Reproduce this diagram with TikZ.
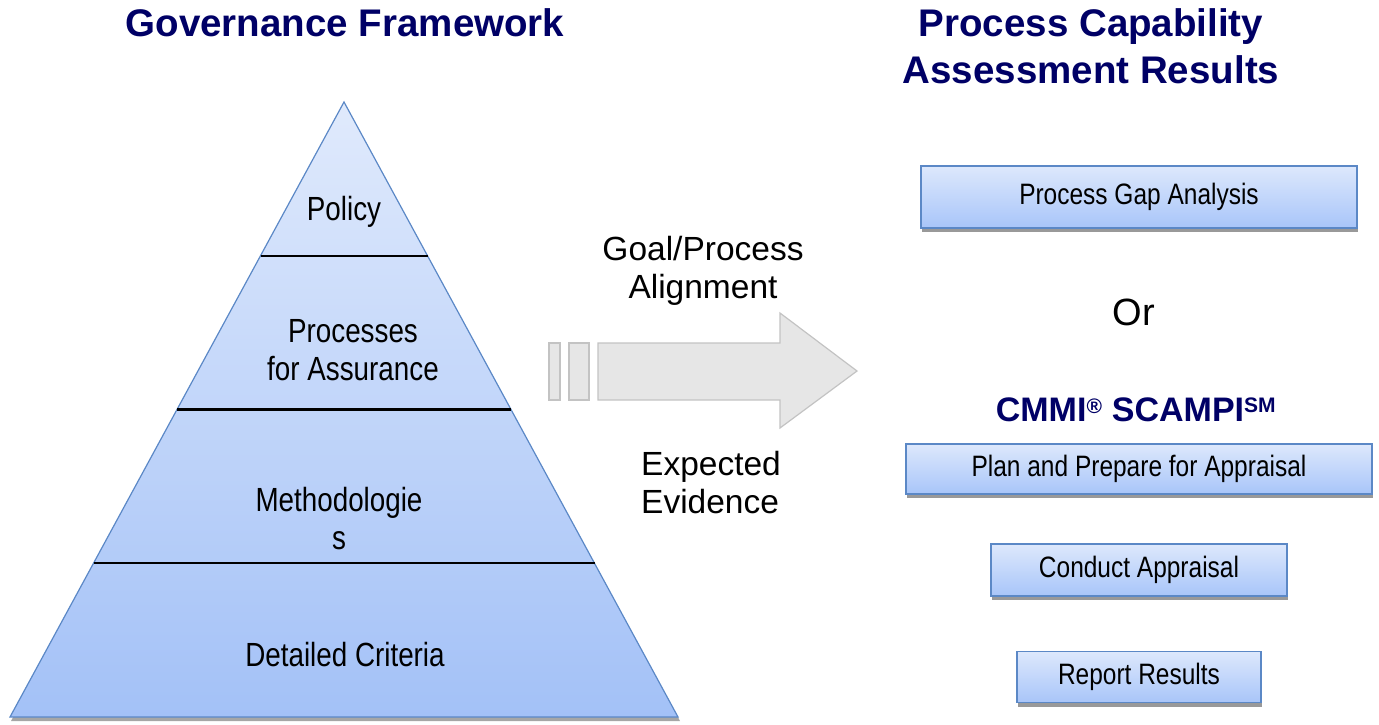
\documentclass[tikz,border=0pt]{standalone}
\usepackage{fontspec}
\setmainfont{Liberation Sans}
\newfontfamily\narrowfont[FakeStretch=0.83]{Liberation Sans}
\usetikzlibrary{calc,shadows}

\definecolor{navy}{HTML}{000066}
\definecolor{boxtop}{HTML}{DDE8FC}
\definecolor{boxbot}{HTML}{A8C5F9}
\definecolor{boxedge}{HTML}{5B88C6}
\definecolor{pyrtop}{HTML}{E0EAFC}
\definecolor{pyrbot}{HTML}{A3C1F7}
\definecolor{arrowfill}{HTML}{E6E6E6}
\definecolor{arrowedge}{HTML}{C3C3C3}

\tikzset{
  heading/.style={text=navy, font=\fontsize{38.5}{44}\selectfont\bfseries, align=center, inner sep=0pt},
  stagebox/.style={draw=boxedge, line width=1.2pt, top color=boxtop, bottom color=boxbot,
    font=\narrowfont\fontsize{29.5}{34}\selectfont, inner sep=0pt,
    drop shadow={shadow xshift=1pt, shadow yshift=-4pt, fill=black!40, opacity=1}},
  tierlabel/.style={font=\narrowfont\fontsize{33.5}{38}\selectfont, align=center, inner sep=0pt},
  tierline/.style={line width=2.4pt, black},
  flowlabel/.style={font=\fontsize{33.5}{38}\selectfont, inner sep=0pt},
  arrowpart/.style={fill=arrowfill, draw=arrowedge, line width=1.2pt},
}

\begin{document}
\begin{tikzpicture}[x=1pt,y=-1pt]
\useasboundingbox (0,0) rectangle (1379,724);

% ---- headings ----
\node[heading] (govtitle) at (345,23) {Governance Framework};
\node[heading] (pcatitle) at (1091,46) {Process Capability\\[3pt]Assessment Results};

% ---- pyramid ----
\coordinate (apex) at (344,102);
\coordinate (bl) at (10,717);
\coordinate (br) at (678,717);
\fill[black!35] ($(bl)+(1,4)$) -- ($(br)+(2,4)$) -- ($(apex)+(1,4)$) -- cycle;
\shade[top color=pyrtop, bottom color=pyrbot, draw=boxedge, line width=1.2pt]
  (apex) -- (br) -- (bl) -- cycle;
\foreach \t in {0.25,0.5,0.75}
  \draw[tierline] ($(apex)!\t!(bl)$) -- ($(apex)!\t!(br)$);

\node[tierlabel] (policy) at (344,212) {Policy};
\node[tierlabel] (assurance) at (353,350) {Processes\\for Assurance};
\node[tierlabel] (methods) at (339,519) {Methodologie\\s};
\node[tierlabel] (criteria) at (345,655) {Detailed Criteria};

% ---- block arrow ----
\draw[arrowpart] (549,343) rectangle (560,400);
\draw[arrowpart] (569,343) rectangle (589,400);
\draw[arrowpart, line join=miter] (598,343) -- (780,343) -- (780,313) -- (857,371)
  -- (780,428) -- (780,400) -- (598,400) -- cycle;

\node[flowlabel, align=center] (goal) at (703,271) {Goal/Process\\Alignment};
\node[flowlabel, align=left] (evidence) at (711,483) {Expected\\Evidence};

% ---- assessment results ----
\node[stagebox, minimum width=436pt, minimum height=62pt] (gap) at (1139,197) {Process Gap Analysis};
\node[font=\fontsize{38}{42}\selectfont, inner sep=0pt] (or) at (1134,312) {Or};
\node[text=navy, font=\fontsize{34}{38}\selectfont\bfseries, inner sep=0pt] (scampi) at (1136,410)
  {CMMI\textsuperscript{\fontsize{21}{21}\selectfont\normalfont\bfseries\raisebox{-1pt}{®}} SCAMPI\textsuperscript{\fontsize{21}{21}\selectfont SM}};
\node[stagebox, minimum width=466pt, minimum height=50pt] (plan) at (1139,469) {Plan and Prepare for Appraisal};
\node[stagebox, minimum width=296pt, minimum height=52pt] (conduct) at (1139,570) {Conduct Appraisal};
\node[stagebox, minimum width=244pt, minimum height=51pt] (report) at (1139,677) {Report Results};
\end{tikzpicture}
\end{document}
